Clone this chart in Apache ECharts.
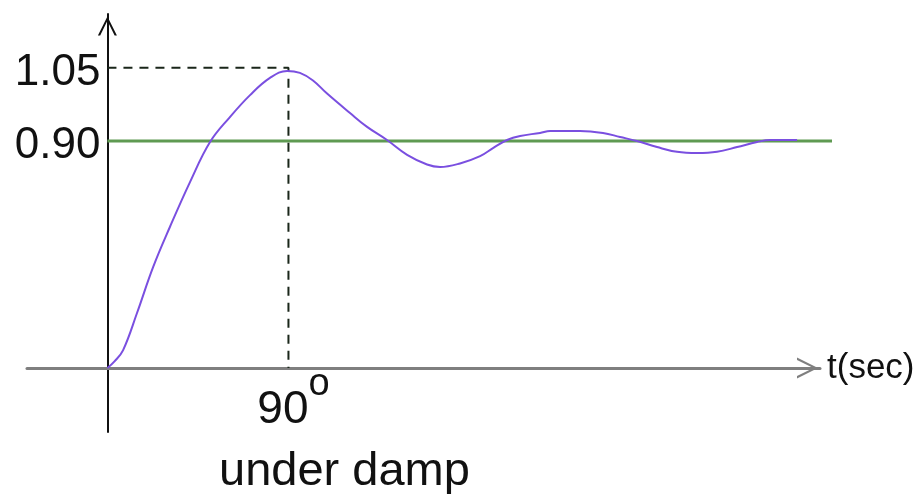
<!DOCTYPE html>
<html>
<head>
<meta charset="utf-8">
<script src="https://cdn.jsdelivr.net/npm/echarts@6/dist/echarts.min.js"></script>
<style>
html,body{margin:0;padding:0;background:#fff;}
#chart{width:918px;height:494px;}
</style>
</head>
<body>
<div id="chart"></div>
<script>
// ---- data ----
var timeValues = [0, 3.5, 7.8, 14.7, 22.7, 31.1, 41.1, 51.0, 60.9, 70.9, 80.8, 89.3, 95.7, 102.2, 109.2, 120.6, 129.1, 139.0, 149.0, 158.9, 165.4, 175.3, 185.3, 191.7, 198.7, 205.2, 215.1, 220.1, 235.0, 246.4, 254.9, 263.3, 273.3, 283.2, 293.2, 303.1, 313.1, 323.0, 329.5, 342.9];
var responseValues = [0, 0.026, 0.071, 0.218, 0.400, 0.560, 0.738, 0.896, 0.995, 1.082, 1.150, 1.178, 1.170, 1.140, 1.088, 1.011, 0.956, 0.904, 0.845, 0.807, 0.797, 0.811, 0.840, 0.872, 0.904, 0.920, 0.932, 0.940, 0.940, 0.932, 0.916, 0.900, 0.876, 0.857, 0.852, 0.857, 0.876, 0.896, 0.904, 0.904];
var settleLevel = 0.90;
var settleLineEnd = 360.3;
var peakTime = 90;
var peakLevel = 1.19;
var yTickValues = [peakLevel, settleLevel];
var yTickLabels = ['1.05', '0.90'];
var xTickValues = [90];
var xTickLabels = ['90'];
var xAxisName = 't(sec)';
var captionText = 'under damp';

// ---- build ----
var curve = timeValues.map(function (t, i) { return [t, responseValues[i]]; });
var chevron = 'path://M0,100 L50,0 L100,100 L88,100 L50,22 L12,100 Z';
var FONT = 'Liberation Sans, Arial, sans-serif';
var Y_MIN = -0.2538, Y_MAX = 1.4036;

var chart = echarts.init(document.getElementById('chart'), null, {renderer: 'canvas'});
chart.setOption({
  backgroundColor: '#ffffff',
  animation: false,
  title: {
    text: captionText,
    left: 219,
    top: 449,
    padding: 0,
    textStyle: {fontFamily: FONT, fontSize: 47, fontWeight: 'normal', color: '#111'}
  },
  grid: [
    {left: 27, right: 98, top: 14, bottom: 62, containLabel: false, outerBoundsMode: 'none'},
    {left: 107.4, right: 86, top: 14, bottom: 62, containLabel: false, outerBoundsMode: 'none'}
  ],
  xAxis: [{
    type: 'value',
    gridIndex: 0,
    min: -40,
    max: 354.3,
    offset: -64,
    name: xAxisName,
    nameLocation: 'end',
    nameGap: 7,
    nameTextStyle: {fontFamily: FONT, fontSize: 35, color: '#111', verticalAlign: 'middle', padding: [8, 0, 0, 0]},
    axisLine: {
      onZero: false,
      lineStyle: {color: '#7f7f7f', width: 3},
      symbol: ['none', chevron],
      symbolSize: [21, 25],
      symbolOffset: [0, -12.5]
    },
    axisTick: {show: false},
    splitLine: {show: false},
    axisLabel: {
      customValues: xTickValues,
      margin: -2,
      formatter: function (v) {
        var i = xTickValues.indexOf(v);
        return '{a|' + (i >= 0 ? xTickLabels[i] : '') + '}{b|o}';
      },
      rich: {
        a: {fontFamily: FONT, fontSize: 46, color: '#111', padding: [21, 0, 0, 10]},
        b: {fontFamily: FONT, fontSize: 38, color: '#111', verticalAlign: 'top'}
      }
    }
  }, {
    type: 'value',
    gridIndex: 1,
    min: 0,
    max: settleLineEnd,
    show: false
  }],
  yAxis: [{
    type: 'value',
    gridIndex: 0,
    min: Y_MIN,
    max: Y_MAX,
    offset: -80.4,
    axisLine: {
      onZero: false,
      lineStyle: {color: '#111', width: 2},
      symbol: ['none', chevron],
      symbolSize: [19, 24],
      symbolOffset: [0, -12]
    },
    axisTick: {show: false},
    splitLine: {show: false},
    axisLabel: {
      customValues: yTickValues,
      margin: 7,
      formatter: function (v) {
        var i = yTickValues.indexOf(v);
        return '{v|' + (i >= 0 ? yTickLabels[i] : '') + '}';
      },
      rich: {
        v: {fontFamily: FONT, fontSize: 44, color: '#111', padding: [10, 0, 0, 0]}
      }
    }
  }, {
    type: 'value',
    gridIndex: 1,
    min: Y_MIN,
    max: Y_MAX,
    show: false
  }],
  series: [
    {
      type: 'line',
      xAxisIndex: 1,
      yAxisIndex: 1,
      data: [[0, settleLevel], [settleLineEnd, settleLevel]],
      showSymbol: false,
      silent: true,
      lineStyle: {color: '#5f9a52', width: 3},
      z: 1
    },
    {
      type: 'line',
      data: [[0, peakLevel], [peakTime, peakLevel], [peakTime, 0]],
      showSymbol: false,
      silent: true,
      lineStyle: {color: '#1a261a', width: 2, type: [9, 7]},
      z: 2
    },
    {
      type: 'line',
      data: curve,
      smooth: 0.4,
      showSymbol: false,
      silent: true,
      lineStyle: {color: '#7a4fe0', width: 2},
      z: 3
    }
  ]
});
</script>
</body>
</html>
